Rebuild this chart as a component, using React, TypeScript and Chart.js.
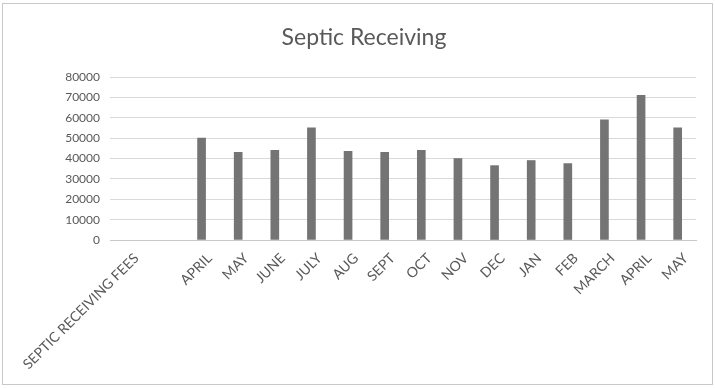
import React, { useEffect, useRef } from "react";
import { Chart, registerables } from "chart.js";

Chart.register(...registerables);

const TITLE = "Septic Receiving";
const CATEGORIES = [
  "SEPTIC RECEIVING FEES",
  "",
  "APRIL",
  "MAY",
  "JUNE",
  "JULY",
  "AUG",
  "SEPT",
  "OCT",
  "NOV",
  "DEC",
  "JAN",
  "FEB",
  "MARCH",
  "APRIL",
  "MAY",
];
const FEES: (number | null)[] = [
  null,
  null,
  50000,
  43000,
  44000,
  55000,
  43500,
  43000,
  44000,
  40000,
  36500,
  39000,
  37500,
  59000,
  71000,
  55000,
];
const Y_MIN = 0;
const Y_MAX = 80000;
const Y_STEP = 10000;

const FONT = "Lato, 'Open Sans', sans-serif";

const decorPlugin = {
  id: "decor",
  beforeDraw(chart: any) {
    const ctx = chart.ctx;
    ctx.save();
    ctx.fillStyle = "#ffffff";
    ctx.fillRect(0, 0, chart.width, chart.height);
    ctx.strokeStyle = "#c8c8c8";
    ctx.lineWidth = 1;
    ctx.strokeRect(2.5, 3.5, chart.width - 5, chart.height - 7);
    ctx.fillStyle = "#595959";
    ctx.font = `23px ${FONT}`;
    ctx.textAlign = "center";
    ctx.textBaseline = "alphabetic";
    ctx.fillText(TITLE, 364, 45);
    ctx.restore();
  },
};

export default function App() {
  const ref = useRef<HTMLCanvasElement | null>(null);

  useEffect(() => {
    document.body.style.margin = "0";
    const canvas = ref.current;
    if (!canvas) return;
    const chart = new Chart(canvas, {
      type: "bar",
      data: {
        labels: CATEGORIES,
        datasets: [
          {
            label: "Septic Receiving Fees",
            data: FEES,
            backgroundColor: "#747474",
            borderWidth: 0,
            barThickness: 8,
          },
        ],
      },
      plugins: [decorPlugin],
      options: {
        responsive: false,
        animation: false,
        layout: { padding: { top: 77, left: 0, right: 19, bottom: 0 } },
        plugins: {
          legend: { display: false },
          tooltip: { enabled: false },
          title: { display: false },
        },
        scales: {
          x: {
            grid: { display: false },
            border: { display: true, color: "#c8c8c8" },
            ticks: {
              color: "#595959",
              font: { family: FONT, size: 14 },
              maxRotation: 45,
              minRotation: 45,
              autoSkip: false,
              padding: 2,
              labelOffset: 8,
            },
            afterFit(scale: any) {
              scale.height = 148;
            },
          },
          y: {
            min: Y_MIN,
            max: Y_MAX,
            grid: { color: "#d9d9d9", drawTicks: false },
            border: { display: false },
            ticks: {
              stepSize: Y_STEP,
              color: "#595959",
              font: { family: FONT, size: 12 },
              padding: 10,
              callback: (v: any) => String(v),
            },
            afterFit(scale: any) {
              scale.width = 110;
            },
          },
        },
      },
    });
    return () => chart.destroy();
  }, []);

  return <canvas ref={ref} width={715} height={388} style={{ display: "block" }} />;
}
